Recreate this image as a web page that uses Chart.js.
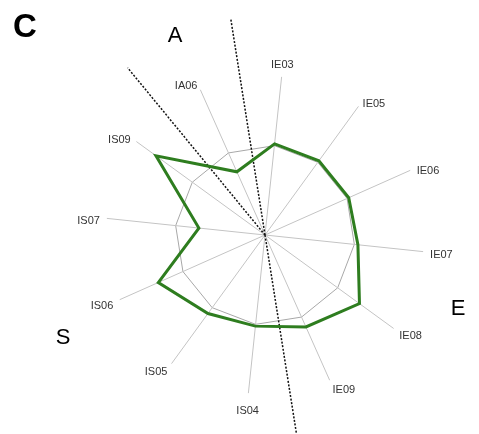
<!DOCTYPE html>
<html>
<head>
<meta charset="utf-8">
<script src="https://cdn.jsdelivr.net/npm/chart.js@4"></script>
<style>
  html, body { margin: 0; padding: 0; background: #fff; }
  canvas { display: block; }
</style>
</head>
<body>
<canvas id="radarChart" width="479" height="434"></canvas>
<script>
// DATA: profile scores per item (1 = reference ring)
var items = ['IE03', 'IE05', 'IE06', 'IE07', 'IE08', 'IE09', 'IS04', 'IS05', 'IS06', 'IS07', 'IS09', 'IA06'];
var scores = [1.02, 1.02, 1.02, 1.04, 1.30, 1.12, 1.02, 1.08, 1.30, 0.74, 1.50, 0.77];
var ringValues = [0, 1, 1.77];

// dotted guide lines: direction (deg clockwise from top) and length (scale units)
var guideAngles = [320.6, 351, 171];
var guideLengths = [2.41, 2.43, 2.6];

// panel letter and region letters
var panelLetter = 'C';
var regionLetters = ['A', 'E', 'S'];

var guidePlugin = {
  id: 'guides',
  beforeDatasetsDraw: function(chart) {
    var scale = chart.scales.r;
    var ctx = chart.ctx;
    ctx.save();
    ctx.strokeStyle = '#111';
    ctx.lineWidth = 1.5;
    ctx.setLineDash([2, 1.6]);
    for (var i = 0; i < guideAngles.length; i++) {
      var rad = (guideAngles[i] - 90) * Math.PI / 180;
      var d = scale.getDistanceFromCenterForValue(guideLengths[i]);
      ctx.beginPath();
      ctx.moveTo(scale.xCenter, scale.yCenter);
      ctx.lineTo(scale.xCenter + Math.cos(rad) * d, scale.yCenter + Math.sin(rad) * d);
      ctx.stroke();
    }
    ctx.restore();
  },
  afterDraw: function(chart) {
    var scale = chart.scales.r;
    var ctx = chart.ctx;
    ctx.save();
    // item labels next to the spoke ends
    ctx.font = '11px "Liberation Sans", Arial, sans-serif';
    ctx.fillStyle = '#333';
    ctx.textBaseline = 'middle';
    for (var i = 0; i < items.length; i++) {
      var pos = scale.getPointPosition(i, scale.drawingArea + 7);
      var c = Math.cos(pos.angle);
      if (Math.abs(c) < 0.2) {
        ctx.textAlign = 'center';
        ctx.fillText(items[i], pos.x, pos.y + (Math.sin(pos.angle) > 0 ? 11 : -5));
      } else {
        ctx.textAlign = c > 0 ? 'left' : 'right';
        ctx.fillText(items[i], pos.x, pos.y + 3);
      }
    }
    // letters
    ctx.textBaseline = 'alphabetic';
    ctx.textAlign = 'left';
    ctx.fillStyle = '#000';
    ctx.font = 'bold 33px "Liberation Sans", Arial, sans-serif';
    ctx.fillText(panelLetter, 13, 37);
    ctx.textAlign = 'center';
    ctx.font = '22px "Liberation Sans", Arial, sans-serif';
    ctx.fillText(regionLetters[0], 175, 42);
    ctx.fillText(regionLetters[1], 458, 315);
    ctx.fillText(regionLetters[2], 63, 344);
    ctx.restore();
  }
};

var ctx = document.getElementById('radarChart').getContext('2d');
var radarChart = new Chart(ctx, {
  type: 'radar',
  data: {
    labels: items,
    datasets: [{
      data: scores,
      borderColor: '#2e7d1f',
      borderWidth: 3,
      backgroundColor: 'transparent',
      fill: false,
      pointRadius: 0,
      tension: 0
    }]
  },
  options: {
    responsive: false,
    animation: false,
    layout: {
      padding: { left: 106, right: 55, top: 76, bottom: 40 }
    },
    plugins: {
      legend: { display: false },
      tooltip: { enabled: false }
    },
    scales: {
      r: {
        min: ringValues[0],
        max: ringValues[2],
        startAngle: 6,
        afterBuildTicks: function(scale) {
          scale.ticks = ringValues.map(function(v) { return { value: v }; });
        },
        ticks: { display: false },
        pointLabels: { display: false },
        grid: {
          color: function(c) { return c.index === 1 ? '#a8a8a8' : 'transparent'; },
          lineWidth: 1
        },
        angleLines: { color: '#c4c4c4', lineWidth: 1 }
      }
    }
  },
  plugins: [guidePlugin]
});
</script>
</body>
</html>
